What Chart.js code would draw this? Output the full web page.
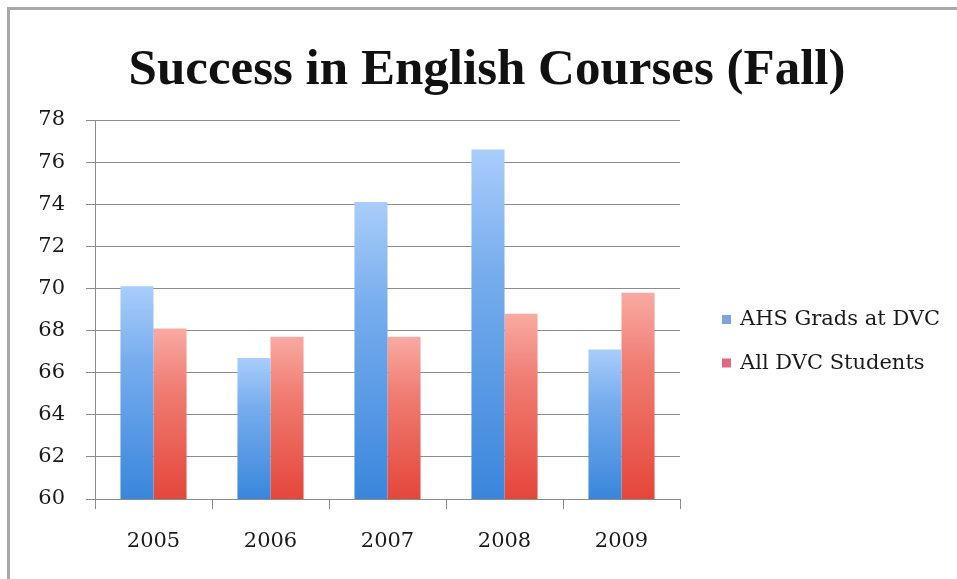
<!DOCTYPE html>
<html>
<head>
<meta charset="utf-8">
<script src="https://cdn.jsdelivr.net/npm/chart.js@4"></script>
<style>
  html, body { margin: 0; padding: 0; background: #fff; }
  #wrap { position: relative; width: 957px; height: 579px; }
  #frame { position: absolute; left: 7px; top: 7px; right: 0; bottom: 0;
           border-top: 3px solid #a9a9a9; border-left: 3px solid #a9a9a9; pointer-events: none; }
  canvas { display: block; }
</style>
</head>
<body>
<div id="wrap">
  <canvas id="chart" width="957" height="579"></canvas>
  <div id="frame"></div>
</div>
<script>
// Course success rates (%) by fall term
const years = ['2005', '2006', '2007', '2008', '2009'];
const ahsGrads = [70.1, 66.7, 74.1, 76.6, 67.1];
const allDvcStudents = [68.1, 67.7, 67.7, 68.8, 69.8];
const seriesNames = ['AHS Grads at DVC', 'All DVC Students'];
const yTickValues = [60, 62, 64, 66, 68, 70, 72, 74, 76, 78];
const chartTitle = 'Success in English Courses (Fall)';

const GRID = '#8c8c8c';
const TEXT = '#1a1a1a';
const SWATCHES = ['#7fa3dc', '#e5677f'];

// Each bar gets its own top-to-bottom gradient, light at the top.
function barFill(topColor, bottomColor) {
  return (ctx) => {
    const chart = ctx.chart;
    const y = chart.scales && chart.scales.y;
    if (ctx.type !== 'data' || !y) return bottomColor;
    const yTop = y.getPixelForValue(ctx.raw);
    const yBase = y.getPixelForValue(y.min);
    if (!isFinite(yTop) || !isFinite(yBase) || yTop === yBase) return bottomColor;
    const g = chart.ctx.createLinearGradient(0, yTop, 0, yBase);
    g.addColorStop(0, topColor);
    g.addColorStop(0.35, mix(topColor, bottomColor, 0.45));
    g.addColorStop(1, bottomColor);
    return g;
  };
}
function mix(a, b, t) {
  const pa = [1, 3, 5].map(i => parseInt(a.substr(i, 2), 16));
  const pb = [1, 3, 5].map(i => parseInt(b.substr(i, 2), 16));
  return 'rgb(' + pa.map((v, i) => Math.round(v + (pb[i] - v) * t)).join(',') + ')';
}

// Title and right-hand legend
const decorations = {
  id: 'decorations',
  afterDraw(chart) {
    const c = chart.ctx;
    c.save();
    c.fillStyle = '#111';
    c.font = 'bold 51px "Liberation Serif"';
    c.textAlign = 'center';
    c.textBaseline = 'alphabetic';
    c.fillText(chartTitle, 487, 84);

    c.font = '21px "DejaVu Serif"';
    c.textAlign = 'left';
    c.textBaseline = 'middle';
    chart.data.datasets.forEach((ds, i) => {
      const cy = 320 + i * 43.5;
      c.fillStyle = SWATCHES[i];
      c.fillRect(722, cy - 5, 9, 9);
      c.fillStyle = TEXT;
      c.fillText(ds.label, 740, cy);
    });
    c.restore();
  }
};

new Chart(document.getElementById('chart'), {
  type: 'bar',
  data: {
    labels: years,
    datasets: [
      { label: seriesNames[0], data: ahsGrads, backgroundColor: barFill('#a9cdfb', '#3a86dc'),
        barPercentage: 1, categoryPercentage: 0.565 },
      { label: seriesNames[1], data: allDvcStudents, backgroundColor: barFill('#f9aaa2', '#e5463a'),
        barPercentage: 1, categoryPercentage: 0.565 }
    ]
  },
  options: {
    responsive: false,
    animation: false,
    devicePixelRatio: 1,
    layout: { padding: { left: 0, right: 277, top: 120, bottom: 0 } },
    plugins: { legend: { display: false }, title: { display: false }, tooltip: { enabled: false } },
    scales: {
      y: {
        min: 60, max: 78,
        afterFit: (s) => { s.width = 95; },
        afterBuildTicks: (s) => { s.ticks = yTickValues.map(v => ({ value: v })); },
        ticks: { padding: 21, color: TEXT, font: { family: 'DejaVu Serif', size: 21 } },
        grid: { color: GRID, lineWidth: 1, tickLength: 9 },
        border: { color: GRID, width: 1 }
      },
      x: {
        afterFit: (s) => { s.height = 80; },
        ticks: { padding: 20, color: TEXT, font: { family: 'DejaVu Serif', size: 21 } },
        grid: { drawOnChartArea: false, color: GRID, tickLength: 10 },
        border: { color: GRID, width: 1 }
      }
    }
  },
  plugins: [decorations]
});
</script>
</body>
</html>
